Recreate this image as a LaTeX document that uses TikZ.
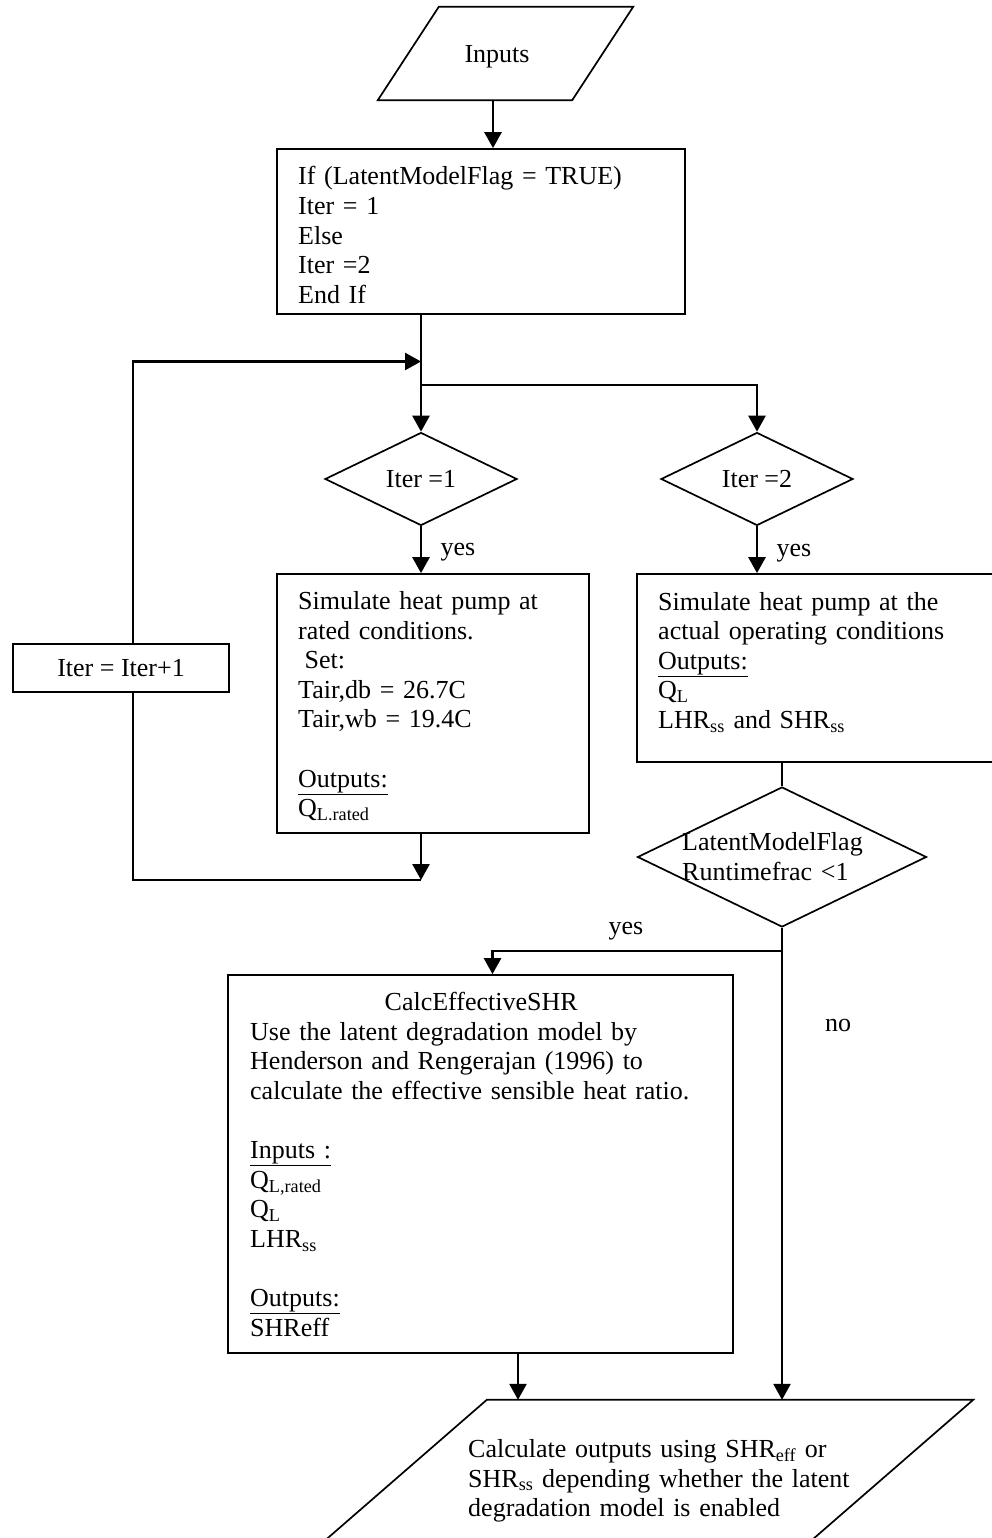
\documentclass[tikz,border=0pt]{standalone}
\usepackage{fontspec}
\setmainfont{Liberation Serif}
\usetikzlibrary{arrows.meta,shapes.geometric,calc}
\tikzset{
  fcline/.style={draw=black, line width=1.7pt},
  proc/.style={fcline, rectangle, fill=white, inner sep=0pt},
  decn/.style={fcline, diamond, aspect=2, fill=white, inner sep=0pt},
  io/.style={rectangle, inner sep=0pt},
  txt/.style={inner sep=0pt, align=left, anchor=base west},
  anno/.style={inner sep=0pt},
  arr/.style={-{Triangle[length=16pt,width=17pt]}, line width=2.6pt},
  wire/.style={line width=2.6pt},
  every picture/.append style={font=\fontsize{26}{29.6}\selectfont}
}
\begin{document}
\begin{tikzpicture}[x=1pt,y=-1pt]
  \useasboundingbox (0,0) rectangle (992,1538);

  % top part
  \node[io, minimum width=194pt, minimum height=93pt,
        label={[xshift=-8.5pt,yshift=-3.5pt]center:Inputs}] (inp) at (505.5,53.5) {};
  \draw[fcline] ([xshift=30.5pt]inp.north west) -- ([xshift=30.5pt]inp.north east)
    -- ([xshift=-30.5pt]inp.south east) -- ([xshift=-30.5pt]inp.south west) -- cycle;
  \node[proc, minimum width=408pt, minimum height=165pt] (ifbox) at (481,231.5) {};
  \node[txt, text width=380pt] (iftxt) at (298,185)
    {If (LatentModelFlag = TRUE)\\Iter = 1\\Else\\Iter =2\\End If};

  % the two branches
  \node[decn, minimum width=192pt, minimum height=93pt] (it1) at (421,479) {Iter =1};
  \node[decn, minimum width=192pt, minimum height=93pt] (it2) at (757,479) {Iter =2};
  \node[proc, minimum width=312pt, minimum height=259pt] (rated) at (433,703.5) {};
  \node[txt, text width=280pt] (ratedtxt) at (298,609.5)
    {Simulate heat pump at\\rated conditions.\\\hspace*{6.5pt}Set:\\Tair,db = 26.7C\\
     Tair,wb = 19.4C\\[29.6pt]\underline{Outputs:}\\Q\textsubscript{L.rated}};
  \node[proc, minimum width=359pt, minimum height=188pt] (actual) at (816.5,668) {};
  \node[txt, text width=320pt] (actualtxt) at (658,610)
    {Simulate heat pump at the\\actual operating conditions\\\underline{Outputs:}\\
     Q\textsubscript{L}\\LHR\textsubscript{ss} and SHR\textsubscript{ss}};
  \node[proc, minimum width=216pt, minimum height=48pt] (inc) at (121,668) {Iter = Iter+1};

  % latent model
  \node[decn, minimum width=289pt, minimum height=140pt] (lmf) at (782,857) {};
  \node[txt, text width=200pt] (lmftxt) at (682,850.5) {LatentModelFlag\\Runtimefrac <1};
  \node[proc, minimum width=505pt, minimum height=378pt] (calc) at (480.5,1164) {};
  \node[txt, text width=462pt] (calctxt) at (250,1010.5)
    {\makebox[\linewidth]{CalcEffectiveSHR}\\
     Use the latent degradation model by\\
     Henderson and Rengerajan (1996) to\\
     calculate the effective sensible heat ratio.\\[29.6pt]
     \underline{Inputs :}\\Q\textsubscript{L,rated}\\Q\textsubscript{L}\\
     LHR\textsubscript{ss}\\[29.6pt]\underline{Outputs:}\\SHReff};
  \node[io, minimum width=486pt, minimum height=160pt] (out) at (637.75,1480) {};
  \draw[fcline] ([xshift=92.25pt]out.north west) -- ([xshift=92.25pt]out.north east)
    -- ([xshift=-92.25pt]out.south east) -- ([xshift=-92.25pt]out.south west) -- cycle;
  \node[txt, text width=480pt] (outtxt) at (468,1457.5)
    {Calculate outputs using SHR\textsubscript{eff} or\\
     SHR\textsubscript{ss} depending whether the latent\\
     degradation model is enabled};

  \node[anno] (yes1) at (458,552) {yes};
  \node[anno] (yes2) at (794,553) {yes};
  \node[anno] (yes3) at (626,931) {yes};
  \node[anno] (no1) at (838,1025) {no};

  % connectors
  \coordinate (inarr) at ([xshift=-12.5pt]inp.center);
  \draw[arr] (inarr |- inp.south) -- (inarr |- ifbox.north);
  \draw[arr] (ifbox.south -| it1.north) -- (it1.north);
  \coordinate (split) at (421,385);
  \draw[arr] (split) -| (it2.north);
  \draw[arr] (it1.south) -- (it1.south |- rated.north);
  \draw[arr] (it2.south) -- (it2.south |- actual.north);

  \coordinate (lpb) at (421,880);
  \coordinate (lpt) at (421,361.5);
  \draw[arr] (rated.south -| lpb) -- (lpb);
  \draw[wire] (lpb) -| ([xshift=12pt]inc.south);
  \draw[arr] ([xshift=12pt]inc.north) |- (lpt);

  \draw[wire] (actual.south -| lmf.north) -- (lmf.north);
  \draw[arr] (lmf.south) -- (lmf.south |- out.north);
  \coordinate (ysplit) at (782,951);
  \draw[arr] (ysplit) -| ([xshift=12pt]calc.north);
  \draw[arr] ([xshift=37.5pt]calc.south) -- ([xshift=37.5pt]calc.south |- out.north);
\end{tikzpicture}
\end{document}
